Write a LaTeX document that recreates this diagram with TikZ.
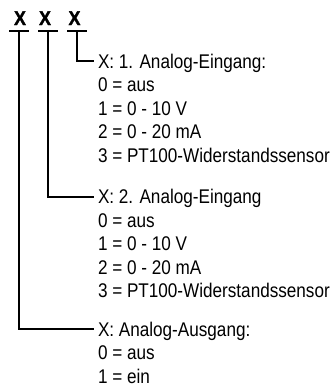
\documentclass[tikz,border=0pt]{standalone}
\usepackage{fontspec}
\setmainfont{Liberation Sans}[FakeStretch=0.865]
\newfontfamily\digitfont{Liberation Sans Bold}[FakeStretch=0.9, FakeBold=1.5]
\begin{document}
\begin{tikzpicture}[x=1bp, y=-1bp, line width=2bp,
    txt/.style={anchor=base west, inner sep=0pt, font=\fontsize{19.8bp}{23.5bp}\selectfont},
    digit/.style={anchor=base, inner sep=0pt, font=\fontsize{19.8bp}{23.5bp}\digitfont}]
    \useasboundingbox (0,0) rectangle (335,389);

    % Digits
    \node[digit] (x1) at (20,25) {X};
    \node[digit] (x2) at (45,25) {X};
    \node[digit] (x3) at (74.5,25) {X};

    % Bars
    \coordinate (b1) at (19,31);
    \coordinate (b2) at (48,31);
    \coordinate (b3) at (77,31);
    \draw ([xshift=-9.5bp]b1) -- ([xshift=9.5bp]b1);
    \draw ([xshift=-9.5bp]b2) -- ([xshift=9.5bp]b2);
    \draw ([xshift=-9.5bp]b3) -- ([xshift=9.5bp]b3);

    % 1. Analog-Eingang
    \node[txt] (in1) at (97,68) {X: 1. Analog-Eingang:};
    \node[txt] (in1a) at (97,91.5) {0 = aus};
    \node[txt] (in1b) at (97,115) {1 = 0 - 10 V};
    \node[txt] (in1c) at (97,138.5) {2 = 0 - 20 mA};
    \node[txt] (in1d) at (97,162) {3 = PT100-Widerstandssensor};

    % 2. Analog-Eingang
    \node[txt] (in2) at (97,203.5) {X: 2. Analog-Eingang};
    \node[txt] (in2a) at (97,227) {0 = aus};
    \node[txt] (in2b) at (97,250.5) {1 = 0 - 10 V};
    \node[txt] (in2c) at (97,274) {2 = 0 - 20 mA};
    \node[txt] (in2d) at (97,297.5) {3 = PT100-Widerstandssensor};

    % Analog-Ausgang
    \node[txt] (out) at (97,336) {X: Analog-Ausgang:};
    \node[txt] (outa) at (97,359.5) {0 = aus};
    \node[txt] (outb) at (97,383) {1 = ein};

    % Connectors
    \draw (b3) |- ([xshift=-3bp, yshift=7bp]in1.base west);
    \draw (b2) |- ([xshift=-3bp, yshift=7bp]in2.base west);
    \draw (b1) |- ([xshift=-3bp, yshift=7bp]out.base west);
\end{tikzpicture}
\end{document}
